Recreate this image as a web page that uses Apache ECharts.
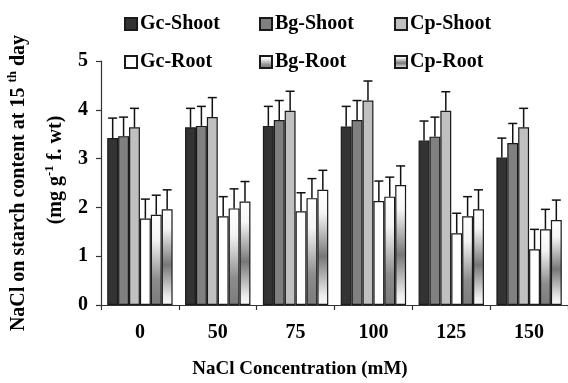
<!DOCTYPE html>
<html>
<head>
<meta charset="utf-8">
<script src="https://cdn.jsdelivr.net/npm/echarts@6/dist/echarts.min.js"></script>
<style>
  html, body { margin: 0; padding: 0; background: #fff; }
  #chart { width: 568px; height: 383px; }
</style>
</head>
<body>
<div id="chart"></div>
<script>
// NaCl concentrations (mM)
const concentrations = ['0', '50', '75', '100', '125', '150'];

// Starch content (mg g-1 f. wt) on the 15th day
const gcShoot = [3.42, 3.64, 3.67, 3.66, 3.37, 3.02];
const bgShoot = [3.46, 3.67, 3.79, 3.79, 3.45, 3.32];
const cpShoot = [3.64, 3.85, 3.98, 4.19, 3.98, 3.64];
const gcRoot  = [1.77, 1.82, 1.92, 2.13, 1.47, 1.14];
const bgRoot  = [1.85, 1.98, 2.19, 2.22, 1.82, 1.55];
const cpRoot  = [1.96, 2.12, 2.36, 2.46, 1.96, 1.74];

// Error bar lengths
const gcShootErr = [0.41, 0.39, 0.40, 0.41, 0.40, 0.40];
const bgShootErr = [0.39, 0.40, 0.40, 0.40, 0.40, 0.40];
const cpShootErr = [0.39, 0.40, 0.40, 0.40, 0.39, 0.39];
const gcRootErr  = [0.40, 0.40, 0.38, 0.41, 0.41, 0.41];
const bgRootErr  = [0.40, 0.40, 0.40, 0.40, 0.40, 0.41];
const cpRootErr  = [0.40, 0.41, 0.40, 0.39, 0.40, 0.41];

const yTicks = [0, 1, 2, 3, 4, 5];

const FONT = '"Liberation Serif", "Times New Roman", serif';
const CAT_GAP = 0.16;

const bgRootFill = new echarts.graphic.LinearGradient(0, 0, 0, 1, [
  { offset: 0, color: '#ffffff' },
  { offset: 0.28, color: '#f4f4f4' },
  { offset: 0.72, color: '#8c8c8c' },
  { offset: 1, color: '#7c7c7c' }
]);
const cpRootFill = new echarts.graphic.LinearGradient(0, 0, 0, 1, [
  { offset: 0, color: '#ffffff' },
  { offset: 0.2, color: '#f6f6f6' },
  { offset: 0.58, color: '#777777' },
  { offset: 0.92, color: '#eeeeee' },
  { offset: 1, color: '#fafafa' }
]);

const groups = [
  { name: 'Gc-Shoot', data: gcShoot, err: gcShootErr, fill: '#333333' },
  { name: 'Bg-Shoot', data: bgShoot, err: bgShootErr, fill: '#808080' },
  { name: 'Cp-Shoot', data: cpShoot, err: cpShootErr, fill: '#c0c0c0' },
  { name: 'Gc-Root',  data: gcRoot,  err: gcRootErr,  fill: '#ffffff' },
  { name: 'Bg-Root',  data: bgRoot,  err: bgRootErr,  fill: bgRootFill },
  { name: 'Cp-Root',  data: cpRoot,  err: cpRootErr,  fill: cpRootFill }
];

// Upper error bar with a cap, placed over the k-th bar of each group
function errorRenderer(k) {
  return function (params, api) {
    const x = api.value(0), v = api.value(1), e = api.value(2);
    const base = api.coord([x, v]);
    const top = api.coord([x, v + e]);
    const catW = api.size([1, 0])[0];
    const barW = catW * (1 - CAT_GAP) / groups.length;
    const cx = base[0] + (k - (groups.length - 1) / 2) * barW;
    const cap = 4.5;
    const st = { stroke: '#111', lineWidth: 1.5 };
    return {
      type: 'group',
      children: [
        { type: 'line', shape: { x1: cx, y1: base[1], x2: cx, y2: top[1] }, style: st },
        { type: 'line', shape: { x1: cx - cap, y1: top[1], x2: cx + cap, y2: top[1] }, style: st }
      ]
    };
  };
}

const barSeries = groups.map(g => ({
  name: g.name,
  type: 'bar',
  data: g.data,
  barGap: '0%',
  barCategoryGap: (CAT_GAP * 100) + '%',
  itemStyle: { color: g.fill, borderColor: '#1a1a1a', borderWidth: 1.2 },
  z: 2
}));

const errSeries = groups.map((g, k) => ({
  name: g.name + ' err',
  type: 'custom',
  renderItem: errorRenderer(k),
  data: g.data.map((v, i) => [i, v, g.err[i]]),
  z: 3,
  silent: true
}));

const legendText = { fontFamily: FONT, fontWeight: 'bold', fontSize: 20, color: '#000', lineHeight: 20, padding: [0, 0, 0, -2] };
function legendColumn(names, left) {
  return {
    orient: 'vertical',
    left: left,
    top: 14,
    itemGap: 18,
    itemWidth: 12,
    itemHeight: 12,
    icon: 'rect',
    data: names,
    textStyle: legendText,
    selectedMode: false,
    padding: 0
  };
}

const chart = echarts.init(document.getElementById('chart'), null, { renderer: 'canvas' });
chart.setOption({
  animation: false,
  backgroundColor: '#fff',
  grid: { left: 101, right: -9, top: 61, bottom: 78, containLabel: false },
  legend: [
    legendColumn(['Gc-Shoot', 'Gc-Root'], 124),
    legendColumn(['Bg-Shoot', 'Bg-Root'], 259),
    legendColumn(['Cp-Shoot', 'Cp-Root'], 394)
  ],
  xAxis: {
    type: 'category',
    data: concentrations,
    axisLine: { lineStyle: { color: '#333', width: 1.2 } },
    axisTick: { show: true, inside: false, length: 5, lineStyle: { color: '#333', width: 1.2 } },
    axisLabel: { fontFamily: FONT, fontWeight: 'bold', fontSize: 20, color: '#000', margin: 18 }
  },
  yAxis: {
    type: 'value',
    min: yTicks[0],
    max: yTicks[yTicks.length - 1],
    interval: 1,
    axisLine: { show: true, lineStyle: { color: '#333', width: 1.2 } },
    axisTick: { show: true, inside: false, length: 5, lineStyle: { color: '#333', width: 1.2 } },
    splitLine: { show: false },
    axisLabel: { fontFamily: FONT, fontWeight: 'bold', fontSize: 20, color: '#000', margin: 13 }
  },
  graphic: [
    {
      type: 'text',
      x: 19, y: 183,
      rotation: Math.PI / 2,
      style: {
        text: '{t|NaCl on starch content at 15 }{s|th}{t| day}',
        align: 'center', verticalAlign: 'middle',
        fill: '#000',
        rich: {
          t: { fontFamily: FONT, fontWeight: 'bold', fontSize: 20, lineHeight: 24, fill: '#000' },
          s: { fontFamily: FONT, fontWeight: 'bold', fontSize: 13, lineHeight: 13, padding: [0, 0, 12, 0], fill: '#000' }
        }
      }
    },
    {
      type: 'text',
      x: 56, y: 170,
      rotation: Math.PI / 2,
      style: {
        text: '{t|(mg g}{s|-1}{t| f. wt)}',
        align: 'center', verticalAlign: 'middle',
        fill: '#000',
        rich: {
          t: { fontFamily: FONT, fontWeight: 'bold', fontSize: 20, lineHeight: 24, fill: '#000' },
          s: { fontFamily: FONT, fontWeight: 'bold', fontSize: 13, lineHeight: 13, padding: [0, 0, 12, 0], fill: '#000' }
        }
      }
    },
    {
      type: 'text',
      x: 300, y: 369,
      style: {
        text: 'NaCl Concentration (mM)',
        align: 'center', verticalAlign: 'middle',
        fontFamily: FONT, fontWeight: 'bold', fontSize: 19, fill: '#000'
      }
    }
  ],
  series: barSeries.concat(errSeries)
});
</script>
</body>
</html>
